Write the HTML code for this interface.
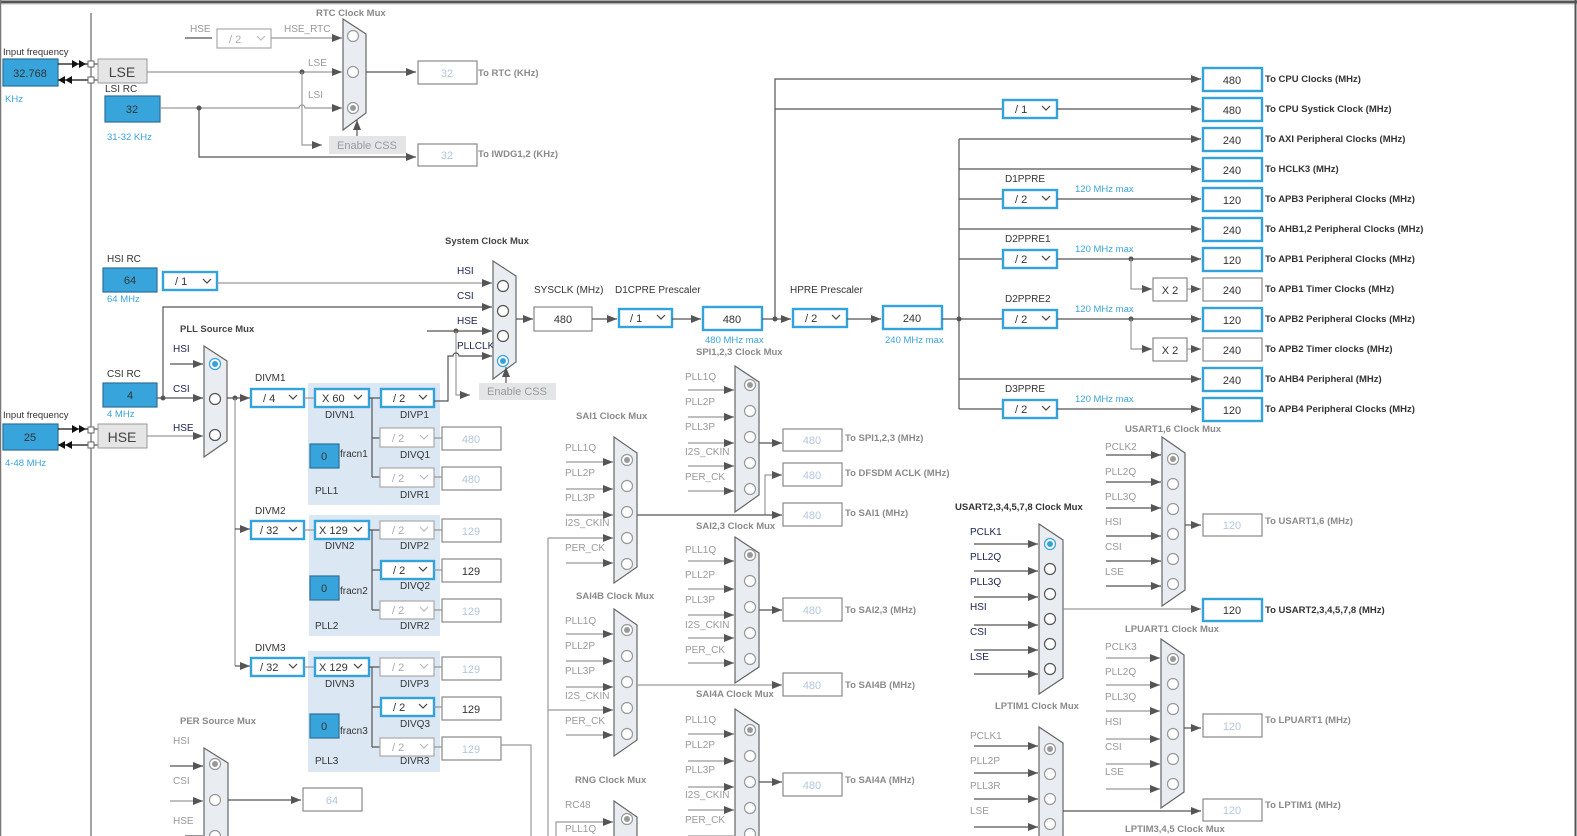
<!DOCTYPE html>
<html><head><meta charset="utf-8">
<style>
html,body{margin:0;padding:0;background:#fff;}
svg{display:block;font-family:"Liberation Sans",Arial,sans-serif;}
.l{font-size:10px;fill:#333;}
.g{font-size:10px;fill:#999;}
.nb{font-size:10px;fill:#1a2250;}
.t{font-size:9.5px;font-weight:bold;fill:#444;}
.tg{font-size:9.5px;font-weight:bold;fill:#8a8a8a;}
.o{font-size:9.5px;font-weight:bold;fill:#333;}
.og{font-size:9.5px;font-weight:bold;fill:#8a8a8a;}
.b{font-size:9.5px;fill:#3aa3dc;}
.v{font-size:11px;fill:#333;text-anchor:middle;}
.vg{font-size:11px;fill:#b5c7dd;text-anchor:middle;}
.s{font-size:11px;fill:#333;}
.sg{font-size:11px;fill:#aaa;}
.ln{stroke:#555;stroke-width:1.2;fill:none;}
.lg{stroke:#999;stroke-width:1.2;fill:none;}
.bs{fill:#fff;stroke:#35a3db;stroke-width:2.4;}
.gs{fill:#fff;stroke:#aaa;stroke-width:1.2;}
.ob{fill:#fff;stroke:#888;stroke-width:1.2;}
.mx{fill:#e9edf1;stroke:#666;stroke-width:1.2;}
.c{fill:#fff;stroke:#555;stroke-width:1.2;}
.cg{fill:#fff;stroke:#999;stroke-width:1.2;}
.bf{fill:#37a5dc;stroke:#2d6f98;stroke-width:1.2;}
.pl{fill:#dbe8f4;}
.ch{stroke:#444;stroke-width:1.2;fill:none;}
.chg{stroke:#bbb;stroke-width:1.2;fill:none;}
</style></head><body>
<svg width="1577" height="836" viewBox="0 0 1577 836" xmlns="http://www.w3.org/2000/svg">
<defs>
<marker id="a" markerWidth="10" markerHeight="8" refX="10" refY="4" orient="auto" markerUnits="userSpaceOnUse"><path d="M0,0L10,4L0,8z" fill="#555"/></marker>
</defs>
<rect width="1577" height="836" fill="#fff"/>
<line x1="0" y1="2" x2="1577" y2="2" stroke="#555" stroke-width="3"/>
<line x1="0" y1="4.5" x2="1577" y2="4.5" stroke="#e5e5e5" stroke-width="1"/>
<line x1="0.5" y1="0" x2="0.5" y2="836" stroke="#777" stroke-width="1.5"/>
<line x1="1575.5" y1="0" x2="1575.5" y2="836" stroke="#555" stroke-width="2"/>
<line x1="91" y1="13" x2="91" y2="836" stroke="#666" stroke-width="1.2"/>

<!-- LSE -->
<text x="3" y="55" class="l" style="font-size:9.5px">Input frequency</text>
<rect x="3" y="59" width="55" height="27" class="bf"/><text x="30" y="77" class="v">32.768</text>
<text x="5" y="102" class="b">KHz</text>
<line x1="58" y1="64" x2="88" y2="64" stroke="#111" stroke-width="1.2"/>
<path d="M72,60L79,64L72,68zM79,60L86,64L79,68z" fill="#111"/>
<line x1="58" y1="80" x2="88" y2="80" stroke="#111" stroke-width="1.2"/>
<path d="M72,76L65,80L72,84zM65,76L58,80L65,84z" fill="#111"/>
<rect x="88" y="61" width="6" height="6" fill="#fff" stroke="#666"/>
<rect x="88" y="77" width="6" height="6" fill="#fff" stroke="#666"/>
<line x1="94" y1="64" x2="98" y2="64" class="ln"/><line x1="94" y1="80" x2="98" y2="80" class="ln"/>
<rect x="98" y="59" width="49" height="24" fill="#e5e5e5" stroke="#999"/><text x="122" y="77" style="font-size:14px;fill:#444;text-anchor:middle">LSE</text>
<text x="105" y="92" class="l">LSI RC</text>
<rect x="105" y="96" width="55" height="26" class="bf"/><text x="132" y="113" class="v">32</text>
<text x="107" y="140" class="b">31-32 KHz</text>

<text x="190" y="32" class="g">HSE</text>
<line x1="185" y1="38" x2="212" y2="38" class="ln"/>
<rect x="217" y="29" width="54" height="19" class="gs"/><text x="229" y="43" class="sg">/ 2</text><path d="M257,36l4,4l4,-4" class="chg"/>
<text x="284" y="32" class="g">HSE_RTC</text>
<line x1="271" y1="38" x2="342" y2="38" class="lg" marker-end="url(#a)"/>
<text x="316" y="16" class="tg">RTC Clock Mux</text>
<line x1="147" y1="72" x2="342" y2="72" class="lg" marker-end="url(#a)"/>
<circle cx="302" cy="72" r="2.5" fill="#555"/>
<text x="308" y="66" class="g">LSE</text><text x="308" y="98" class="g">LSI</text>
<path d="M160,108H299a3,3 0 0 1 6,0H342" class="lg" marker-end="url(#a)"/>
<circle cx="199" cy="108" r="2.5" fill="#555"/>
<path d="M302,72V145H322" class="lg" marker-end="url(#a)"/>
<rect x="329" y="136" width="77" height="18" fill="#e3e5e7"/><text x="367" y="149" style="font-size:11px;fill:#999;text-anchor:middle">Enable CSS</text>
<polygon points="343,19 366,34 366,113 343,130" class="mx"/>
<circle cx="353" cy="36" r="5.5" class="cg"/><circle cx="353" cy="72" r="5.5" class="cg"/><circle cx="353" cy="108" r="5.5" class="cg"/><circle cx="353" cy="108" r="3" fill="#999"/>
<line x1="357" y1="136" x2="357" y2="120" class="ln" marker-end="url(#a)"/>
<line x1="366" y1="72" x2="416" y2="72" class="ln" marker-end="url(#a)"/>
<rect x="418" y="61" width="59" height="23" class="ob"/><text x="447" y="77" class="vg">32</text>
<text x="478" y="76" class="og">To RTC (KHz)</text>
<path d="M199,108V157H416" class="ln" marker-end="url(#a)"/>
<rect x="418" y="144" width="59" height="22" class="ob"/><text x="447" y="159" class="vg">32</text>
<text x="478" y="157" class="og">To IWDG1,2 (KHz)</text>

<!-- HSI / CSI / HSE -->
<text x="107" y="262" class="l">HSI RC</text>
<rect x="103" y="268" width="54" height="24" class="bf"/><text x="130" y="284" class="v">64</text>
<text x="107" y="302" class="b">64 MHz</text>
<rect x="163" y="272" width="54" height="18" class="bs"/><text x="175" y="285" class="s">/ 1</text><path d="M203,279l4,4l4,-4" class="ch"/>
<line x1="217" y1="283" x2="492" y2="283" class="lg" marker-end="url(#a)"/>
<text x="107" y="377" class="l">CSI RC</text>
<rect x="103" y="383" width="54" height="24" class="bf"/><text x="130" y="399" class="v">4</text>
<text x="107" y="417" class="b">4 MHz</text>
<line x1="157" y1="398" x2="203" y2="398" class="ln" marker-end="url(#a)"/>
<circle cx="163" cy="398" r="2.5" fill="#555"/>
<path d="M163,398V307H492" class="ln" marker-end="url(#a)"/>
<text x="3" y="418" class="l" style="font-size:9.5px">Input frequency</text>
<rect x="3" y="424" width="55" height="26" class="bf"/><text x="30" y="441" class="v">25</text>
<text x="5" y="466" class="b">4-48 MHz</text>
<line x1="58" y1="429" x2="88" y2="429" stroke="#111" stroke-width="1.2"/>
<path d="M72,425L79,429L72,433zM79,425L86,429L79,433z" fill="#111"/>
<line x1="58" y1="445" x2="88" y2="445" stroke="#111" stroke-width="1.2"/>
<path d="M72,441L65,445L72,449zM65,441L58,445L65,449z" fill="#111"/>
<rect x="88" y="427" width="6" height="6" fill="#fff" stroke="#666"/>
<rect x="88" y="442" width="6" height="6" fill="#fff" stroke="#666"/>
<line x1="94" y1="429" x2="98" y2="429" class="ln"/><line x1="94" y1="445" x2="98" y2="445" class="ln"/>
<rect x="98" y="424" width="49" height="24" fill="#e5e5e5" stroke="#999"/><text x="122" y="442" style="font-size:14px;fill:#444;text-anchor:middle">HSE</text>
<line x1="147" y1="436" x2="203" y2="436" class="lg" marker-end="url(#a)"/>

<!-- PLL Source Mux -->
<text x="180" y="332" class="t">PLL Source Mux</text>
<text x="173" y="352" class="nb">HSI</text><text x="173" y="392" class="nb">CSI</text><text x="173" y="431" class="nb">HSE</text>
<line x1="170" y1="364" x2="203" y2="364" class="ln" marker-end="url(#a)"/>
<polygon points="204,346 227,361 227,441 204,457" class="mx"/>
<circle cx="215" cy="364" r="5.5" fill="#fff" stroke="#35a3db" stroke-width="1.2"/><circle cx="215" cy="364" r="3" fill="#35a3db"/>
<circle cx="215" cy="399" r="5.5" class="c"/><circle cx="215" cy="435" r="5.5" class="c"/>
<line x1="227" y1="398" x2="250" y2="398" class="ln" marker-end="url(#a)"/>
<circle cx="235" cy="398" r="2.5" fill="#555"/>
<path d="M235,398V666" class="lg"/>
<line x1="235" y1="529" x2="250" y2="529" class="ln" marker-end="url(#a)"/>
<line x1="235" y1="666" x2="250" y2="666" class="ln" marker-end="url(#a)"/>

<!-- PLL1 -->
<rect x="308" y="383" width="132" height="122" class="pl"/>
<text x="255" y="381" class="l">DIVM1</text>
<rect x="251" y="389" width="53" height="18" class="bs"/><text x="263" y="402" class="s">/ 4</text><path d="M289,395l4,4l4,-4" class="ch"/>
<line x1="304" y1="398" x2="315" y2="398" class="lg"/>
<rect x="315" y="389" width="54" height="18" class="bs"/><text x="322" y="402" class="s">X 60</text><path d="M354,395l4,4l4,-4" class="ch"/>
<text x="325" y="418" class="l">DIVN1</text>
<path d="M369,398H381M372,398V477M372,438H380M372,477H380" class="ln"/>
<rect x="381" y="389" width="53" height="18" class="bs"/><text x="393" y="402" class="s">/ 2</text><path d="M419,395l4,4l4,-4" class="ch"/>
<text x="400" y="418" class="l">DIVP1</text>
<rect x="380" y="428" width="54" height="19" class="gs"/><text x="392" y="442" class="sg">/ 2</text><path d="M420,435l4,4l4,-4" class="chg"/>
<text x="400" y="458" class="l">DIVQ1</text>
<rect x="380" y="468" width="54" height="19" class="gs"/><text x="392" y="482" class="sg">/ 2</text><path d="M420,475l4,4l4,-4" class="chg"/>
<text x="400" y="498" class="l">DIVR1</text>
<path d="M434,438H442M434,477H442" class="lg"/>
<rect x="442" y="427" width="59" height="23" class="ob"/><text x="471" y="443" class="vg">480</text>
<rect x="442" y="467" width="59" height="23" class="ob"/><text x="471" y="483" class="vg">480</text>
<rect x="310" y="444" width="29" height="24" class="bf"/><text x="324" y="460" class="v">0</text>
<text x="340" y="457" class="l">fracn1</text><text x="315" y="494" class="l">PLL1</text>

<!-- PLL2 -->
<rect x="309" y="515" width="131" height="121" class="pl"/>
<text x="255" y="514" class="l">DIVM2</text>
<rect x="251" y="521" width="53" height="18" class="bs"/><text x="260" y="534" class="s">/ 32</text><path d="M289,527l4,4l4,-4" class="ch"/>
<line x1="304" y1="530" x2="315" y2="530" class="lg"/>
<rect x="315" y="521" width="54" height="18" class="bs"/><text x="319" y="534" class="s">X 129</text><path d="M354,527l4,4l4,-4" class="ch"/>
<text x="325" y="549" class="l">DIVN2</text>
<path d="M369,530H381M372,530V610M372,570H380M372,610H380" class="ln"/>
<rect x="380" y="521" width="54" height="18" class="gs"/><text x="392" y="534" class="sg">/ 2</text><path d="M420,527l4,4l4,-4" class="chg"/>
<text x="400" y="549" class="l">DIVP2</text>
<rect x="381" y="561" width="53" height="18" class="bs"/><text x="393" y="574" class="s">/ 2</text><path d="M419,567l4,4l4,-4" class="ch"/>
<text x="400" y="589" class="l">DIVQ2</text>
<rect x="380" y="601" width="54" height="18" class="gs"/><text x="392" y="614" class="sg">/ 2</text><path d="M420,607l4,4l4,-4" class="chg"/>
<text x="400" y="629" class="l">DIVR2</text>
<path d="M434,530H442M434,570H442M434,610H442" class="lg"/>
<rect x="442" y="519" width="59" height="23" class="ob"/><text x="471" y="535" class="vg">129</text>
<rect x="442" y="559" width="59" height="23" class="ob"/><text x="471" y="575" class="v">129</text>
<rect x="442" y="599" width="59" height="23" class="ob"/><text x="471" y="615" class="vg">129</text>
<rect x="310" y="576" width="29" height="24" class="bf"/><text x="324" y="592" class="v">0</text>
<text x="340" y="594" class="l">fracn2</text><text x="315" y="629" class="l">PLL2</text>

<!-- PLL3 -->
<rect x="308" y="651" width="132" height="121" class="pl"/>
<text x="255" y="651" class="l">DIVM3</text>
<rect x="251" y="658" width="53" height="18" class="bs"/><text x="260" y="671" class="s">/ 32</text><path d="M289,664l4,4l4,-4" class="ch"/>
<line x1="304" y1="667" x2="315" y2="667" class="lg"/>
<rect x="315" y="658" width="54" height="18" class="bs"/><text x="319" y="671" class="s">X 129</text><path d="M354,664l4,4l4,-4" class="ch"/>
<text x="325" y="687" class="l">DIVN3</text>
<path d="M369,667H381M372,667V747M372,707H380M372,747H380" class="ln"/>
<rect x="380" y="658" width="54" height="18" class="gs"/><text x="392" y="671" class="sg">/ 2</text><path d="M420,664l4,4l4,-4" class="chg"/>
<text x="400" y="687" class="l">DIVP3</text>
<rect x="381" y="698" width="53" height="18" class="bs"/><text x="393" y="711" class="s">/ 2</text><path d="M419,704l4,4l4,-4" class="ch"/>
<text x="400" y="727" class="l">DIVQ3</text>
<rect x="380" y="738" width="54" height="18" class="gs"/><text x="392" y="751" class="sg">/ 2</text><path d="M420,744l4,4l4,-4" class="chg"/>
<text x="400" y="764" class="l">DIVR3</text>
<path d="M434,667H442M434,707H442M434,747H442" class="lg"/>
<rect x="442" y="657" width="59" height="23" class="ob"/><text x="471" y="673" class="vg">129</text>
<rect x="442" y="697" width="59" height="23" class="ob"/><text x="471" y="713" class="v">129</text>
<rect x="442" y="737" width="59" height="23" class="ob"/><text x="471" y="753" class="vg">129</text>
<path d="M501,745H531V836" class="lg"/>
<rect x="310" y="714" width="29" height="24" class="bf"/><text x="324" y="730" class="v">0</text>
<text x="340" y="734" class="l">fracn3</text><text x="315" y="764" class="l">PLL3</text>

<!-- PER Source Mux -->
<text x="180" y="724" class="tg">PER Source Mux</text>
<text x="173" y="744" class="g">HSI</text><text x="173" y="784" class="g">CSI</text><text x="173" y="824" class="g">HSE</text>
<line x1="170" y1="766" x2="203" y2="766" class="ln" marker-end="url(#a)"/>
<line x1="170" y1="801" x2="203" y2="801" class="lg" marker-end="url(#a)"/>
<line x1="185" y1="836" x2="203" y2="836" class="ln"/>
<polygon points="204,748 228,763 228,840 204,840" class="mx"/>
<circle cx="215" cy="764" r="5.5" class="cg"/><circle cx="215" cy="764" r="3" fill="#999"/>
<circle cx="215" cy="800" r="5.5" class="cg"/><circle cx="215" cy="836" r="5.5" class="cg"/>
<line x1="228" y1="800" x2="301" y2="800" class="ln" marker-end="url(#a)"/>
<rect x="303" y="788" width="59" height="23" class="ob"/><text x="332" y="804" class="vg">64</text>

<!-- System Clock Mux -->
<text x="445" y="244" class="t">System Clock Mux</text>
<text x="457" y="274" class="nb">HSI</text><text x="457" y="299" class="nb">CSI</text><text x="457" y="324" class="nb">HSE</text><text x="457" y="349" class="nb">PLLCLK</text>
<line x1="427" y1="331" x2="492" y2="331" class="ln" marker-end="url(#a)"/>
<circle cx="456" cy="331" r="2.5" fill="#555"/>
<path d="M456,331V395H470" class="lg" marker-end="url(#a)"/>
<path d="M434,401H448V356H453a3,3 0 0 1 6,0H492" class="ln" marker-end="url(#a)"/>
<rect x="479" y="383" width="77" height="17" fill="#e3e5e7"/><text x="517" y="395" style="font-size:11px;fill:#999;text-anchor:middle">Enable CSS</text>
<polygon points="493,261 516,276 516,362 493,379" class="mx"/>
<circle cx="503" cy="286" r="5.5" class="c"/><circle cx="503" cy="311" r="5.5" class="c"/><circle cx="503" cy="336" r="5.5" class="c"/>
<circle cx="503" cy="361" r="5.5" fill="#fff" stroke="#35a3db" stroke-width="1.2"/><circle cx="503" cy="361" r="3" fill="#35a3db"/>
<line x1="506" y1="383" x2="506" y2="367" class="ln" marker-end="url(#a)"/>
<line x1="516" y1="319" x2="533" y2="319" class="ln" marker-end="url(#a)"/>
<text x="534" y="293" class="l">SYSCLK (MHz)</text>
<rect x="534" y="307" width="58" height="24" class="ob"/><text x="563" y="323" class="v">480</text>
<line x1="592" y1="319" x2="617" y2="319" class="ln" marker-end="url(#a)"/>
<text x="615" y="293" class="l">D1CPRE Prescaler</text>
<rect x="619" y="309" width="53" height="18" class="bs"/><text x="630" y="322" class="s">/ 1</text><path d="M657,315l4,4l4,-4" class="ch"/>
<line x1="672" y1="319" x2="701" y2="319" class="ln" marker-end="url(#a)"/>
<rect x="703" y="307" width="59" height="23" class="bs"/><text x="732" y="323" class="v">480</text>
<text x="705" y="343" class="b">480 MHz max</text>
<line x1="762" y1="319" x2="791" y2="319" class="ln" marker-end="url(#a)"/>
<circle cx="775" cy="319" r="2.5" fill="#555"/>
<text x="790" y="293" class="l">HPRE Prescaler</text>
<rect x="793" y="309" width="54" height="18" class="bs"/><text x="805" y="322" class="s">/ 2</text><path d="M832,315l4,4l4,-4" class="ch"/>
<line x1="847" y1="319" x2="881" y2="319" class="ln" marker-end="url(#a)"/>
<rect x="883" y="306" width="59" height="23" class="bs"/><text x="912" y="322" class="v">240</text>
<text x="885" y="343" class="b">240 MHz max</text>
<line x1="942" y1="319" x2="959" y2="319" class="ln"/>
<circle cx="959" cy="319" r="2.5" fill="#555"/>

<!-- right tree -->
<path d="M775,319V79H1201" class="ln" marker-end="url(#a)"/>
<path d="M775,109H1003" class="ln"/>
<rect x="1003" y="100" width="54" height="18" class="bs"/><text x="1015" y="113" class="s">/ 1</text><path d="M1042,106l4,4l4,-4" class="ch"/>
<line x1="1057" y1="109" x2="1201" y2="109" class="ln" marker-end="url(#a)"/>
<path d="M959,139V409" class="ln"/>
<line x1="959" y1="139" x2="1201" y2="139" class="ln" marker-end="url(#a)"/>
<line x1="959" y1="169" x2="1201" y2="169" class="ln" marker-end="url(#a)"/>
<line x1="959" y1="229" x2="1201" y2="229" class="ln" marker-end="url(#a)"/>
<line x1="959" y1="379" x2="1201" y2="379" class="ln" marker-end="url(#a)"/>
<path d="M959,199H1003M959,259H1003M959,319H1003M959,409H1003" class="ln"/>
<text x="1005" y="182" class="l">D1PPRE</text><text x="1005" y="242" class="l">D2PPRE1</text><text x="1005" y="302" class="l">D2PPRE2</text><text x="1005" y="392" class="l">D3PPRE</text>
<rect x="1003" y="190" width="54" height="18" class="bs"/><text x="1015" y="203" class="s">/ 2</text><path d="M1042,196l4,4l4,-4" class="ch"/>
<rect x="1003" y="250" width="54" height="18" class="bs"/><text x="1015" y="263" class="s">/ 2</text><path d="M1042,256l4,4l4,-4" class="ch"/>
<rect x="1003" y="310" width="54" height="18" class="bs"/><text x="1015" y="323" class="s">/ 2</text><path d="M1042,316l4,4l4,-4" class="ch"/>
<rect x="1003" y="400" width="54" height="18" class="bs"/><text x="1015" y="413" class="s">/ 2</text><path d="M1042,406l4,4l4,-4" class="ch"/>
<text x="1075" y="192" class="b">120 MHz max</text><text x="1075" y="252" class="b">120 MHz max</text><text x="1075" y="312" class="b">120 MHz max</text><text x="1075" y="402" class="b">120 MHz max</text>
<line x1="1057" y1="199" x2="1201" y2="199" class="ln" marker-end="url(#a)"/>
<line x1="1057" y1="259" x2="1201" y2="259" class="ln" marker-end="url(#a)"/>
<line x1="1057" y1="319" x2="1201" y2="319" class="ln" marker-end="url(#a)"/>
<line x1="1057" y1="409" x2="1201" y2="409" class="ln" marker-end="url(#a)"/>
<circle cx="1131" cy="259" r="2.5" fill="#555"/><circle cx="1131" cy="319" r="2.5" fill="#555"/>
<path d="M1131,259V289H1152" class="lg" marker-end="url(#a)"/>
<path d="M1131,319V349H1152" class="lg" marker-end="url(#a)"/>
<rect x="1153" y="278" width="34" height="23" class="ob"/><text x="1170" y="294" class="v">X 2</text>
<rect x="1153" y="338" width="34" height="23" class="ob"/><text x="1170" y="354" class="v">X 2</text>
<line x1="1187" y1="289" x2="1201" y2="289" class="lg" marker-end="url(#a)"/>
<line x1="1187" y1="349" x2="1201" y2="349" class="lg" marker-end="url(#a)"/>

<rect x="1203" y="68" width="59" height="23" class="bs"/><text x="1232" y="84" class="v">480</text><text x="1265" y="82" class="o">To CPU Clocks (MHz)</text>
<rect x="1203" y="98" width="59" height="23" class="bs"/><text x="1232" y="114" class="v">480</text><text x="1265" y="112" class="o">To CPU Systick Clock (MHz)</text>
<rect x="1203" y="128" width="59" height="23" class="bs"/><text x="1232" y="144" class="v">240</text><text x="1265" y="142" class="o">To AXI Peripheral Clocks (MHz)</text>
<rect x="1203" y="158" width="59" height="23" class="bs"/><text x="1232" y="174" class="v">240</text><text x="1265" y="172" class="o">To HCLK3 (MHz)</text>
<rect x="1203" y="188" width="59" height="23" class="bs"/><text x="1232" y="204" class="v">120</text><text x="1265" y="202" class="o">To APB3 Peripheral Clocks (MHz)</text>
<rect x="1203" y="218" width="59" height="23" class="bs"/><text x="1232" y="234" class="v">240</text><text x="1265" y="232" class="o">To AHB1,2 Peripheral Clocks (MHz)</text>
<rect x="1203" y="248" width="59" height="23" class="bs"/><text x="1232" y="264" class="v">120</text><text x="1265" y="262" class="o">To APB1 Peripheral Clocks (MHz)</text>
<rect x="1203" y="278" width="59" height="23" class="ob"/><text x="1232" y="294" class="v">240</text><text x="1265" y="292" class="o">To APB1 Timer Clocks (MHz)</text>
<rect x="1203" y="308" width="59" height="23" class="bs"/><text x="1232" y="324" class="v">120</text><text x="1265" y="322" class="o">To APB2 Peripheral Clocks (MHz)</text>
<rect x="1203" y="338" width="59" height="23" class="ob"/><text x="1232" y="354" class="v">240</text><text x="1265" y="352" class="o">To APB2 Timer clocks (MHz)</text>
<rect x="1203" y="368" width="59" height="23" class="bs"/><text x="1232" y="384" class="v">240</text><text x="1265" y="382" class="o">To AHB4 Peripheral (MHz)</text>
<rect x="1203" y="398" width="59" height="23" class="bs"/><text x="1232" y="414" class="v">120</text><text x="1265" y="412" class="o">To APB4 Peripheral Clocks (MHz)</text>

<!-- SPI1,2,3 mux -->
<text x="696" y="355" class="tg">SPI1,2,3 Clock Mux</text>
<text x="685" y="380" class="g">PLL1Q</text><text x="685" y="405" class="g">PLL2P</text><text x="685" y="430" class="g">PLL3P</text><text x="685" y="455" class="g">I2S_CKIN</text><text x="685" y="480" class="g">PER_CK</text>
<path d="M688,390H734M688,417H734M688,443H734M688,466H734M688,491H734" class="lg"/>
<path d="M724,386l10,4l-10,4zM724,413l10,4l-10,4zM724,439l10,4l-10,4zM724,462l10,4l-10,4zM724,487l10,4l-10,4z" fill="#555"/>
<polygon points="735,366 759,382 759,495 735,512" class="mx"/>
<circle cx="750" cy="385" r="5.5" class="cg"/><circle cx="750" cy="385" r="3" fill="#999"/>
<circle cx="750" cy="411" r="5.5" class="cg"/><circle cx="750" cy="437" r="5.5" class="cg"/><circle cx="750" cy="463" r="5.5" class="cg"/><circle cx="750" cy="489" r="5.5" class="cg"/>
<line x1="759" y1="443" x2="782" y2="443" class="ln" marker-end="url(#a)"/>
<rect x="783" y="429" width="59" height="22" class="ob"/><text x="812" y="444" class="vg">480</text><text x="845" y="441" class="og">To SPI1,2,3 (MHz)</text>
<path d="M765,515V475H782" class="lg" marker-end="url(#a)"/>
<rect x="783" y="463" width="59" height="23" class="ob"/><text x="812" y="479" class="vg">480</text><text x="845" y="476" class="og">To DFSDM ACLK (MHz)</text>
<line x1="637" y1="515" x2="782" y2="515" class="ln" marker-end="url(#a)"/>
<rect x="783" y="503" width="59" height="23" class="ob"/><text x="812" y="519" class="vg">480</text><text x="845" y="516" class="og">To SAI1 (MHz)</text>

<!-- SAI1 mux -->
<text x="576" y="419" class="tg">SAI1 Clock Mux</text>
<text x="565" y="451" class="g">PLL1Q</text><text x="565" y="476" class="g">PLL2P</text><text x="565" y="501" class="g">PLL3P</text><text x="565" y="526" class="g">I2S_CKIN</text><text x="565" y="551" class="g">PER_CK</text>
<path d="M566,462H613M566,489H613M566,515H613M548,538H613M566,563H613M548,538V836" class="lg"/>
<path d="M603,458l10,4l-10,4zM603,485l10,4l-10,4zM603,511l10,4l-10,4zM603,534l10,4l-10,4zM603,559l10,4l-10,4z" fill="#555"/>
<polygon points="614,437 637,453 637,567 614,583" class="mx"/>
<circle cx="627" cy="460" r="5.5" class="cg"/><circle cx="627" cy="460" r="3" fill="#999"/>
<circle cx="627" cy="486" r="5.5" class="cg"/><circle cx="627" cy="512" r="5.5" class="cg"/><circle cx="627" cy="538" r="5.5" class="cg"/><circle cx="627" cy="564" r="5.5" class="cg"/>

<!-- SAI2,3 mux -->
<text x="696" y="529" class="tg">SAI2,3 Clock Mux</text>
<text x="685" y="553" class="g">PLL1Q</text><text x="685" y="578" class="g">PLL2P</text><text x="685" y="603" class="g">PLL3P</text><text x="685" y="628" class="g">I2S_CKIN</text><text x="685" y="653" class="g">PER_CK</text>
<path d="M688,561H734M688,589H734M688,615H734M688,638H734M688,663H734" class="lg"/>
<path d="M724,557l10,4l-10,4zM724,585l10,4l-10,4zM724,611l10,4l-10,4zM724,634l10,4l-10,4zM724,659l10,4l-10,4z" fill="#555"/>
<polygon points="735,537 759,553 759,667 735,683" class="mx"/>
<circle cx="750" cy="555" r="5.5" class="cg"/><circle cx="750" cy="555" r="3" fill="#999"/>
<circle cx="750" cy="581" r="5.5" class="cg"/><circle cx="750" cy="607" r="5.5" class="cg"/><circle cx="750" cy="633" r="5.5" class="cg"/><circle cx="750" cy="659" r="5.5" class="cg"/>
<line x1="759" y1="610" x2="782" y2="610" class="ln" marker-end="url(#a)"/>
<rect x="783" y="598" width="59" height="23" class="ob"/><text x="812" y="614" class="vg">480</text><text x="845" y="613" class="og">To SAI2,3 (MHz)</text>

<!-- SAI4B mux -->
<text x="576" y="599" class="tg">SAI4B Clock Mux</text>
<text x="565" y="624" class="g">PLL1Q</text><text x="565" y="649" class="g">PLL2P</text><text x="565" y="674" class="g">PLL3P</text><text x="565" y="699" class="g">I2S_CKIN</text><text x="565" y="724" class="g">PER_CK</text>
<path d="M566,634H613M566,661H613M566,687H613M548,710H613M566,735H613" class="lg"/>
<path d="M603,630l10,4l-10,4zM603,657l10,4l-10,4zM603,683l10,4l-10,4zM603,706l10,4l-10,4zM603,731l10,4l-10,4z" fill="#555"/>
<polygon points="614,609 637,625 637,740 614,756" class="mx"/>
<circle cx="627" cy="630" r="5.5" class="cg"/><circle cx="627" cy="630" r="3" fill="#999"/>
<circle cx="627" cy="656" r="5.5" class="cg"/><circle cx="627" cy="682" r="5.5" class="cg"/><circle cx="627" cy="708" r="5.5" class="cg"/><circle cx="627" cy="734" r="5.5" class="cg"/>
<line x1="637" y1="685" x2="782" y2="685" class="lg" marker-end="url(#a)"/>
<rect x="783" y="673" width="59" height="23" class="ob"/><text x="812" y="689" class="vg">480</text><text x="845" y="688" class="og">To SAI4B (MHz)</text>

<!-- SAI4A mux -->
<text x="696" y="697" class="tg">SAI4A Clock Mux</text>
<text x="685" y="723" class="g">PLL1Q</text><text x="685" y="748" class="g">PLL2P</text><text x="685" y="773" class="g">PLL3P</text><text x="685" y="798" class="g">I2S_CKIN</text><text x="685" y="823" class="g">PER_CK</text>
<path d="M688,734H734M688,761H734M688,787H734M688,810H734M688,836H734" class="lg"/>
<path d="M724,730l10,4l-10,4zM724,757l10,4l-10,4zM724,783l10,4l-10,4zM724,806l10,4l-10,4z" fill="#555"/>
<polygon points="735,709 759,725 759,840 735,840" class="mx"/>
<circle cx="750" cy="730" r="5.5" class="cg"/><circle cx="750" cy="730" r="3" fill="#999"/>
<circle cx="750" cy="756" r="5.5" class="cg"/><circle cx="750" cy="782" r="5.5" class="cg"/><circle cx="750" cy="808" r="5.5" class="cg"/><circle cx="750" cy="834" r="5.5" class="cg"/>
<line x1="759" y1="782" x2="782" y2="782" class="ln" marker-end="url(#a)"/>
<rect x="783" y="773" width="59" height="23" class="ob"/><text x="812" y="789" class="vg">480</text><text x="845" y="783" class="og">To SAI4A (MHz)</text>

<!-- RNG mux -->
<text x="575" y="783" class="tg">RNG Clock Mux</text>
<text x="565" y="808" class="g">RC48</text><text x="565" y="832" class="g">PLL1Q</text>
<path d="M556,836V822H613" class="lg"/>
<path d="M603,818l10,4l-10,4z" fill="#555"/>
<polygon points="614,801 637,817 637,840 614,840" class="mx"/>
<circle cx="627" cy="819" r="5.5" class="cg"/><circle cx="627" cy="819" r="3" fill="#999"/>

<!-- USART2,3,4,5,7,8 -->
<text x="955" y="510" class="t" style="fill:#333">USART2,3,4,5,7,8 Clock Mux</text>
<text x="970" y="535" class="nb">PCLK1</text><text x="970" y="560" class="nb">PLL2Q</text><text x="970" y="585" class="nb">PLL3Q</text><text x="970" y="610" class="nb">HSI</text><text x="970" y="635" class="nb">CSI</text><text x="970" y="660" class="nb">LSE</text>
<path d="M974,544H1038M974,571H1038M974,597H1038M974,625H1038M974,650H1038M974,674H1038" class="ln"/>
<path d="M1028,540l10,4l-10,4zM1028,567l10,4l-10,4zM1028,593l10,4l-10,4zM1028,621l10,4l-10,4zM1028,646l10,4l-10,4zM1028,670l10,4l-10,4z" fill="#555"/>
<polygon points="1039,524 1063,540 1063,678 1039,694" class="mx"/>
<circle cx="1050" cy="544" r="5.5" fill="#fff" stroke="#35a3db" stroke-width="1.2"/><circle cx="1050" cy="544" r="3" fill="#35a3db"/>
<circle cx="1050" cy="569" r="5.5" class="c"/><circle cx="1050" cy="594" r="5.5" class="c"/><circle cx="1050" cy="619" r="5.5" class="c"/><circle cx="1050" cy="644" r="5.5" class="c"/><circle cx="1050" cy="669" r="5.5" class="c"/>
<line x1="1063" y1="609" x2="1201" y2="609" class="lg" marker-end="url(#a)"/>
<rect x="1203" y="599" width="59" height="22" class="bs"/><text x="1232" y="614" class="v">120</text><text x="1265" y="613" class="o">To USART2,3,4,5,7,8 (MHz)</text>

<!-- USART1,6 -->
<text x="1125" y="432" class="tg">USART1,6 Clock Mux</text>
<text x="1105" y="450" class="g">PCLK2</text><text x="1105" y="475" class="g">PLL2Q</text><text x="1105" y="500" class="g">PLL3Q</text><text x="1105" y="525" class="g">HSI</text><text x="1105" y="550" class="g">CSI</text><text x="1105" y="575" class="g">LSE</text>
<path d="M1106,455H1161M1106,482H1161M1106,508H1161M1106,536H1161M1106,561H1161M1106,586H1161" class="ln"/>
<path d="M1151,451l10,4l-10,4zM1151,478l10,4l-10,4zM1151,504l10,4l-10,4zM1151,532l10,4l-10,4zM1151,557l10,4l-10,4zM1151,582l10,4l-10,4z" fill="#555"/>
<polygon points="1162,437 1185,453 1185,590 1162,606" class="mx"/>
<circle cx="1173" cy="459" r="5.5" class="cg"/><circle cx="1173" cy="459" r="3" fill="#999"/>
<circle cx="1173" cy="484" r="5.5" class="cg"/><circle cx="1173" cy="509" r="5.5" class="cg"/><circle cx="1173" cy="534" r="5.5" class="cg"/><circle cx="1173" cy="559" r="5.5" class="cg"/><circle cx="1173" cy="584" r="5.5" class="cg"/>
<line x1="1185" y1="525" x2="1201" y2="525" class="ln" marker-end="url(#a)"/>
<rect x="1203" y="514" width="59" height="22" class="ob"/><text x="1232" y="529" class="vg">120</text><text x="1265" y="524" class="og">To USART1,6 (MHz)</text>

<!-- LPUART1 -->
<text x="1125" y="632" class="tg">LPUART1 Clock Mux</text>
<text x="1105" y="650" class="g">PCLK3</text><text x="1105" y="675" class="g">PLL2Q</text><text x="1105" y="700" class="g">PLL3Q</text><text x="1105" y="725" class="g">HSI</text><text x="1105" y="750" class="g">CSI</text><text x="1105" y="775" class="g">LSE</text>
<path d="M1106,658H1160M1106,685H1160M1106,711H1160M1106,739H1160M1106,764H1160M1106,789H1160" class="lg"/>
<path d="M1150,654l10,4l-10,4zM1150,681l10,4l-10,4zM1150,707l10,4l-10,4zM1150,735l10,4l-10,4zM1150,760l10,4l-10,4zM1150,785l10,4l-10,4z" fill="#555"/>
<polygon points="1161,639 1184,655 1184,792 1161,808" class="mx"/>
<circle cx="1173" cy="659" r="5.5" class="cg"/><circle cx="1173" cy="659" r="3" fill="#999"/>
<circle cx="1173" cy="684" r="5.5" class="cg"/><circle cx="1173" cy="709" r="5.5" class="cg"/><circle cx="1173" cy="734" r="5.5" class="cg"/><circle cx="1173" cy="759" r="5.5" class="cg"/><circle cx="1173" cy="784" r="5.5" class="cg"/>
<line x1="1184" y1="728" x2="1201" y2="728" class="ln" marker-end="url(#a)"/>
<rect x="1203" y="714" width="59" height="23" class="ob"/><text x="1232" y="730" class="vg">120</text><text x="1265" y="723" class="og">To LPUART1 (MHz)</text>

<!-- LPTIM1 -->
<text x="995" y="709" class="tg">LPTIM1 Clock Mux</text>
<text x="970" y="739" class="g">PCLK1</text><text x="970" y="764" class="g">PLL2P</text><text x="970" y="789" class="g">PLL3R</text><text x="970" y="814" class="g">LSE</text>
<path d="M974,746H1038M974,773H1038M974,799H1038M974,827H1038" class="ln"/>
<path d="M1028,742l10,4l-10,4zM1028,769l10,4l-10,4zM1028,795l10,4l-10,4zM1028,823l10,4l-10,4z" fill="#555"/>
<polygon points="1039,727 1063,743 1063,840 1039,840" class="mx"/>
<circle cx="1050" cy="749" r="5.5" class="cg"/><circle cx="1050" cy="749" r="3" fill="#999"/>
<circle cx="1050" cy="774" r="5.5" class="cg"/><circle cx="1050" cy="799" r="5.5" class="cg"/><circle cx="1050" cy="824" r="5.5" class="cg"/>
<line x1="1063" y1="811" x2="1201" y2="811" class="ln" marker-end="url(#a)"/>
<rect x="1203" y="799" width="59" height="22" class="ob"/><text x="1232" y="814" class="vg">120</text><text x="1265" y="808" class="og">To LPTIM1 (MHz)</text>
<text x="1125" y="832" class="tg">LPTIM3,4,5 Clock Mux</text>
</svg>
</body></html>
